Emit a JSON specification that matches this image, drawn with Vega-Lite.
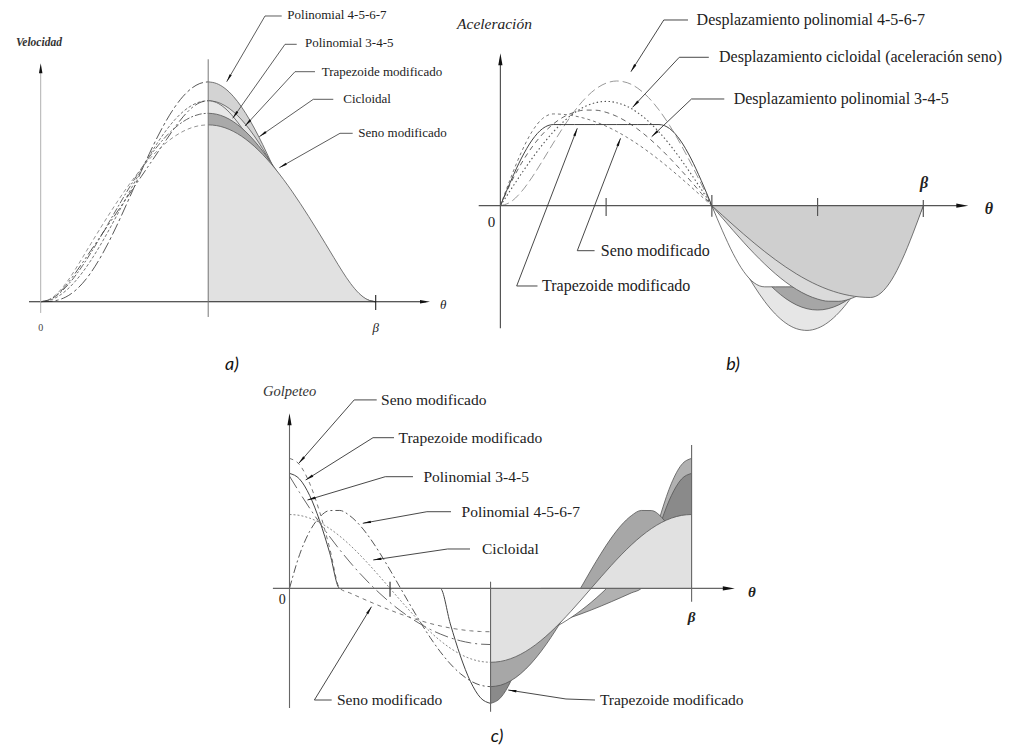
{
"$schema":"https://vega.github.io/schema/vega-lite/v6.json",
"width":1009,"height":749,"padding":0,"autosize":{"type":"none"},
"background":"#ffffff",
"config":{"view":{"stroke":null}},
"datasets":{
"vel":[
{"u":0,"A":0,"B":0,"C":0,"D":0,"E":0},
{"u":0.025,"A":0.002,"B":0.0178,"C":0.0123,"D":0.019,"E":0.0215},
{"u":0.05,"A":0.015,"B":0.0677,"C":0.0489,"D":0.0743,"E":0.084},
{"u":0.075,"A":0.0467,"B":0.1444,"C":0.109,"D":0.1603,"E":0.1813},
{"u":0.1,"A":0.1021,"B":0.243,"C":0.191,"D":0.2688,"E":0.304},
{"u":0.125,"A":0.1832,"B":0.3589,"C":0.2929,"D":0.389,"E":0.4399},
{"u":0.15,"A":0.2902,"B":0.4877,"C":0.4122,"D":0.5112,"E":0.5779},
{"u":0.175,"A":0.4213,"B":0.6253,"C":0.546,"D":0.6334,"E":0.7143},
{"u":0.2,"A":0.5734,"B":0.768,"C":0.691,"D":0.7556,"E":0.8477},
{"u":0.225,"A":0.7423,"B":0.9122,"C":0.8436,"D":0.8778,"E":0.9767},
{"u":0.25,"A":0.9229,"B":1.0547,"C":1,"D":1,"E":1.0998},
{"u":0.275,"A":1.1095,"B":1.1925,"C":1.1564,"D":1.1222,"E":1.2156},
{"u":0.3,"A":1.2965,"B":1.323,"C":1.309,"D":1.2444,"E":1.323},
{"u":0.325,"A":1.478,"B":1.4438,"C":1.454,"D":1.3666,"E":1.4207},
{"u":0.35,"A":1.6484,"B":1.5527,"C":1.5878,"D":1.4888,"E":1.5076},
{"u":0.375,"A":1.8024,"B":1.648,"C":1.7071,"D":1.611,"E":1.5828},
{"u":0.4,"A":1.9354,"B":1.728,"C":1.809,"D":1.7312,"E":1.6455},
{"u":0.425,"A":2.0431,"B":1.7916,"C":1.891,"D":1.8397,"E":1.695},
{"u":0.45,"A":2.1225,"B":1.8377,"C":1.9511,"D":1.9257,"E":1.7308},
{"u":0.475,"A":2.1712,"B":1.8656,"C":1.9877,"D":1.981,"E":1.7524},
{"u":0.5,"A":2.1875,"B":1.875,"C":2,"D":2,"E":1.7596},
{"u":0.525,"A":2.1712,"B":1.8656,"C":1.9877,"D":1.981,"E":1.7524},
{"u":0.55,"A":2.1225,"B":1.8377,"C":1.9511,"D":1.9257,"E":1.7308},
{"u":0.575,"A":2.0431,"B":1.7916,"C":1.891,"D":1.8397,"E":1.695},
{"u":0.6,"A":1.9354,"B":1.728,"C":1.809,"D":1.7312,"E":1.6455},
{"u":0.625,"A":1.8024,"B":1.648,"C":1.7071,"D":1.611,"E":1.5828},
{"u":0.65,"A":1.6484,"B":1.5527,"C":1.5878,"D":1.4888,"E":1.5076},
{"u":0.675,"A":1.478,"B":1.4438,"C":1.454,"D":1.3666,"E":1.4207},
{"u":0.7,"A":1.2965,"B":1.323,"C":1.309,"D":1.2444,"E":1.323},
{"u":0.725,"A":1.1095,"B":1.1925,"C":1.1564,"D":1.1222,"E":1.2156},
{"u":0.75,"A":0.9229,"B":1.0547,"C":1,"D":1,"E":1.0998},
{"u":0.775,"A":0.7423,"B":0.9122,"C":0.8436,"D":0.8778,"E":0.9767},
{"u":0.8,"A":0.5734,"B":0.768,"C":0.691,"D":0.7556,"E":0.8477},
{"u":0.825,"A":0.4213,"B":0.6253,"C":0.546,"D":0.6334,"E":0.7143},
{"u":0.85,"A":0.2902,"B":0.4877,"C":0.4122,"D":0.5112,"E":0.5779},
{"u":0.875,"A":0.1832,"B":0.3589,"C":0.2929,"D":0.389,"E":0.4399},
{"u":0.9,"A":0.1021,"B":0.243,"C":0.191,"D":0.2688,"E":0.304},
{"u":0.925,"A":0.0467,"B":0.1444,"C":0.109,"D":0.1603,"E":0.1813},
{"u":0.95,"A":0.015,"B":0.0677,"C":0.0489,"D":0.0743,"E":0.084},
{"u":0.975,"A":0.002,"B":0.0178,"C":0.0123,"D":0.019,"E":0.0215},
{"u":1,"A":0,"B":0,"C":0,"D":0,"E":0}
],
"acc":[
{"u":0,"A":0,"B":0,"C":0,"D":0,"E":0},
{"u":0.025,"A":0.2371,"B":1.3894,"C":0.9829,"D":1.5105,"E":1.7083},
{"u":0.05,"A":0.8529,"B":2.565,"C":1.9416,"D":2.8732,"E":3.2493},
{"u":0.075,"A":1.7182,"B":3.5381,"C":2.8525,"D":3.9546,"E":4.4723},
{"u":0.1,"A":2.7216,"B":4.32,"C":3.6932,"D":4.6489,"E":5.2575},
{"u":0.125,"A":3.7684,"B":4.9219,"C":4.4429,"D":4.8881,"E":5.528},
{"u":0.15,"A":4.7793,"B":5.355,"C":5.0832,"D":4.8881,"E":5.4977},
{"u":0.175,"A":5.6904,"B":5.6306,"C":5.5984,"D":4.8881,"E":5.4072},
{"u":0.2,"A":6.4512,"B":5.76,"C":5.9757,"D":4.8881,"E":5.2575},
{"u":0.225,"A":7.024,"B":5.7544,"C":6.2058,"D":4.8881,"E":5.0501},
{"u":0.25,"A":7.3828,"B":5.625,"C":6.2832,"D":4.8881,"E":4.7874},
{"u":0.275,"A":7.5128,"B":5.3831,"C":6.2058,"D":4.8881,"E":4.4723},
{"u":0.3,"A":7.4088,"B":5.04,"C":5.9757,"D":4.8881,"E":4.1081},
{"u":0.325,"A":7.0744,"B":4.6069,"C":5.5984,"D":4.8881,"E":3.699},
{"u":0.35,"A":6.5213,"B":4.095,"C":5.0832,"D":4.8881,"E":3.2493},
{"u":0.375,"A":5.7679,"B":3.5156,"C":4.4429,"D":4.8881,"E":2.764},
{"u":0.4,"A":4.8384,"B":2.88,"C":3.6932,"D":4.6489,"E":2.2485},
{"u":0.425,"A":3.7623,"B":2.1994,"C":2.8525,"D":3.9546,"E":1.7083},
{"u":0.45,"A":2.5728,"B":1.485,"C":1.9416,"D":2.8732,"E":1.1493},
{"u":0.475,"A":1.306,"B":0.7481,"C":0.9829,"D":1.5105,"E":0.5778},
{"u":0.5,"A":0,"B":0,"C":0,"D":0,"E":0},
{"u":0.525,"A":-1.306,"B":-0.7481,"C":-0.9829,"D":-1.5105,"E":-0.5778},
{"u":0.55,"A":-2.5728,"B":-1.485,"C":-1.9416,"D":-2.8732,"E":-1.1493},
{"u":0.575,"A":-3.7623,"B":-2.1994,"C":-2.8525,"D":-3.9546,"E":-1.7083},
{"u":0.6,"A":-4.8384,"B":-2.88,"C":-3.6932,"D":-4.6489,"E":-2.2485},
{"u":0.625,"A":-5.7679,"B":-3.5156,"C":-4.4429,"D":-4.8881,"E":-2.764},
{"u":0.65,"A":-6.5213,"B":-4.095,"C":-5.0832,"D":-4.8881,"E":-3.2493},
{"u":0.675,"A":-7.0744,"B":-4.6069,"C":-5.5984,"D":-4.8881,"E":-3.699},
{"u":0.7,"A":-7.4088,"B":-5.04,"C":-5.9757,"D":-4.8881,"E":-4.1081},
{"u":0.725,"A":-7.5128,"B":-5.3831,"C":-6.2058,"D":-4.8881,"E":-4.4723},
{"u":0.75,"A":-7.3828,"B":-5.625,"C":-6.2832,"D":-4.8881,"E":-4.7874},
{"u":0.775,"A":-7.024,"B":-5.7544,"C":-6.2058,"D":-4.8881,"E":-5.0501},
{"u":0.8,"A":-6.4512,"B":-5.76,"C":-5.9757,"D":-4.8881,"E":-5.2575},
{"u":0.825,"A":-5.6904,"B":-5.6306,"C":-5.5984,"D":-4.8881,"E":-5.4072},
{"u":0.85,"A":-4.7793,"B":-5.355,"C":-5.0832,"D":-4.8881,"E":-5.4977},
{"u":0.875,"A":-3.7684,"B":-4.9219,"C":-4.4429,"D":-4.8881,"E":-5.528},
{"u":0.9,"A":-2.7216,"B":-4.32,"C":-3.6932,"D":-4.6489,"E":-5.2575},
{"u":0.925,"A":-1.7182,"B":-3.5381,"C":-2.8525,"D":-3.9546,"E":-4.4723},
{"u":0.95,"A":-0.8529,"B":-2.565,"C":-1.9416,"D":-2.8732,"E":-3.2493},
{"u":0.975,"A":-0.2371,"B":-1.3894,"C":-0.9829,"D":-1.5105,"E":-1.7083},
{"u":1,"A":0,"B":0,"C":0,"D":0,"E":0}
],
"jrk":[
{"u":0,"A":0,"B":60,"C":39.478,"D":61.426,"E":69.467},
{"u":0.025,"A":17.979,"B":51.225,"C":38.992,"D":58.42,"E":66.067},
{"u":0.05,"A":30.424,"B":42.9,"C":37.546,"D":49.695,"E":56.2},
{"u":0.075,"A":38.06,"B":35.025,"C":35.175,"D":36.106,"E":40.832},
{"u":0.1,"A":41.58,"B":27.6,"C":31.938,"D":18.982,"E":21.467},
{"u":0.125,"A":41.631,"B":20.625,"C":27.915,"D":0,"E":0},
{"u":0.15,"A":38.824,"B":14.1,"C":23.205,"D":0,"E":-2.42},
{"u":0.175,"A":33.729,"B":8.025,"C":17.923,"D":0,"E":-4.814},
{"u":0.2,"A":26.88,"B":2.4,"C":12.2,"D":0,"E":-7.156},
{"u":0.225,"A":18.767,"B":-2.775,"C":6.176,"D":0,"E":-9.418},
{"u":0.25,"A":9.844,"B":-7.5,"C":0,"D":0,"E":-11.578},
{"u":0.275,"A":0.523,"B":-11.775,"C":-6.176,"D":0,"E":-13.611},
{"u":0.3,"A":-8.82,"B":-15.6,"C":-12.2,"D":0,"E":-15.494},
{"u":0.325,"A":-17.852,"B":-18.975,"C":-17.923,"D":0,"E":-17.208},
{"u":0.35,"A":-26.276,"B":-21.9,"C":-23.205,"D":0,"E":-18.734},
{"u":0.375,"A":-33.838,"B":-24.375,"C":-27.915,"D":0,"E":-20.054},
{"u":0.4,"A":-40.32,"B":-26.4,"C":-31.938,"D":-18.982,"E":-21.154},
{"u":0.425,"A":-45.545,"B":-27.975,"C":-35.175,"D":-36.106,"E":-22.023},
{"u":0.45,"A":-49.376,"B":-29.1,"C":-37.546,"D":-49.695,"E":-22.65},
{"u":0.475,"A":-51.714,"B":-29.775,"C":-38.992,"D":-58.42,"E":-23.029},
{"u":0.5,"A":-52.5,"B":-30,"C":-39.478,"D":-61.426,"E":-23.156},
{"u":0.525,"A":-51.714,"B":-29.775,"C":-38.992,"D":-58.42,"E":-23.029},
{"u":0.55,"A":-49.376,"B":-29.1,"C":-37.546,"D":-49.695,"E":-22.65},
{"u":0.575,"A":-45.545,"B":-27.975,"C":-35.175,"D":-36.106,"E":-22.023},
{"u":0.6,"A":-40.32,"B":-26.4,"C":-31.938,"D":-18.982,"E":-21.154},
{"u":0.625,"A":-33.838,"B":-24.375,"C":-27.915,"D":0,"E":-20.054},
{"u":0.65,"A":-26.276,"B":-21.9,"C":-23.205,"D":0,"E":-18.734},
{"u":0.675,"A":-17.852,"B":-18.975,"C":-17.923,"D":0,"E":-17.208},
{"u":0.7,"A":-8.82,"B":-15.6,"C":-12.2,"D":0,"E":-15.494},
{"u":0.725,"A":0.523,"B":-11.775,"C":-6.176,"D":0,"E":-13.611},
{"u":0.75,"A":9.844,"B":-7.5,"C":0,"D":0,"E":-11.578},
{"u":0.775,"A":18.767,"B":-2.775,"C":6.176,"D":0,"E":-9.418},
{"u":0.8,"A":26.88,"B":2.4,"C":12.2,"D":0,"E":-7.156},
{"u":0.825,"A":33.729,"B":8.025,"C":17.923,"D":0,"E":-4.814},
{"u":0.85,"A":38.824,"B":14.1,"C":23.205,"D":0,"E":-2.42},
{"u":0.875,"A":41.631,"B":20.625,"C":27.915,"D":0,"E":0},
{"u":0.9,"A":41.58,"B":27.6,"C":31.938,"D":18.982,"E":21.467},
{"u":0.925,"A":38.06,"B":35.025,"C":35.175,"D":36.106,"E":40.832},
{"u":0.95,"A":30.424,"B":42.9,"C":37.546,"D":49.695,"E":56.2},
{"u":0.975,"A":17.979,"B":51.225,"C":38.992,"D":58.42,"E":66.067},
{"u":1,"A":0,"B":60,"C":39.478,"D":61.426,"E":69.467}
],
"S":[
{"p":"a","g":"k","u":-0.0349,"y":0,"u2":1.15,"y2":0},
{"p":"a","g":"k","u":1,"y":0.067,"u2":1,"y2":-0.083},
{"p":"a","g":"l","u":0,"y":-0.112,"u2":0,"y2":2.33},
{"p":"a","g":"m","u":0.5,"y":-0.152,"u2":0.5,"y2":2.412},
{"p":"b","g":"m","u":-0.0513,"y":0,"u2":1.09,"y2":0},
{"p":"b","g":"m","u":0,"y":-7.386,"u2":0,"y2":8.8},
{"p":"b","g":"m","u":0.25,"y":0.464,"u2":0.25,"y2":-0.62},
{"p":"b","g":"m","u":0.5,"y":0.645,"u2":0.5,"y2":-0.663},
{"p":"b","g":"m","u":0.75,"y":0.464,"u2":0.75,"y2":-0.62},
{"p":"b","g":"m","u":1,"y":0.343,"u2":1,"y2":-0.681},
{"p":"c","g":"m","u":-0.0413,"y":0,"u2":1.09,"y2":0},
{"p":"c","g":"m","u":0,"y":-63.9,"u2":0,"y2":90},
{"p":"c","g":"m","u":1,"y":76.6,"u2":1,"y2":-7.1},
{"p":"c","g":"m","u":0.5,"y":3.58,"u2":0.5,"y2":-65.9},
{"p":"c","g":"k","u":0.25,"y":3.58,"u2":0.25,"y2":-4.43}
],
"T":[
{"p":"a","k":"lab","t":"Polinomial 4-5-6-7","u":0.7361,"y":2.8527},
{"p":"a","k":"lab","t":"Polinomial 3-4-5","u":0.789,"y":2.5711},
{"p":"a","k":"lab","t":"Trapezoide modificado","u":0.8388,"y":2.2886},
{"p":"a","k":"lab","t":"Cicloidal","u":0.9033,"y":2.0139},
{"p":"a","k":"lab","t":"Seno modificado","u":0.9481,"y":1.6816},
{"p":"a","k":"num","t":"0","u":0,"y":-0.265},
{"p":"a","k":"sym","t":"β","u":1,"y":-0.262},
{"p":"a","k":"sym","t":"θ","u":1.2018,"y":-0.033},
{"p":"a","k":"ttl","t":"Velocidad","u":-0.0054,"y":2.571},
{"p":"a","k":"cap","t":"a)","u":0.571,"y":-0.63},
{"p":"b","k":"lab","t":"Desplazamiento polinomial 4-5-6-7","u":0.4639,"y":11.187},
{"p":"b","k":"lab","t":"Desplazamiento cicloidal (aceleración seno)","u":0.5169,"y":8.976},
{"p":"b","k":"lab","t":"Desplazamiento polinomial 3-4-5","u":0.5517,"y":6.428},
{"p":"b","k":"lab","t":"Seno modificado","u":0.2374,"y":-2.711},
{"p":"b","k":"lab","t":"Trapezoide modificado","u":0.0984,"y":-4.837},
{"p":"b","k":"num","t":"0","u":-0.021,"y":-0.964},
{"p":"b","k":"sym","t":"β","u":1.0017,"y":1.349},
{"p":"b","k":"sym","t":"θ","u":1.1554,"y":-0.217},
{"p":"b","k":"ttl","t":"Aceleración","u":-0.014,"y":10.946},
{"p":"b","k":"cap","t":"b)","u":0.55,"y":-9.596},
{"p":"c","k":"lab","t":"Seno modificado","u":0.2276,"y":100.69},
{"p":"c","k":"lab","t":"Trapezoide modificado","u":0.2711,"y":80.5},
{"p":"c","k":"lab","t":"Polinomial 3-4-5","u":0.333,"y":59.67},
{"p":"c","k":"lab","t":"Polinomial 4-5-6-7","u":0.4278,"y":40.97},
{"p":"c","k":"lab","t":"Cicloidal","u":0.4787,"y":21.05},
{"p":"c","k":"lab","t":"Seno modificado","u":0.1179,"y":-59.62},
{"p":"c","k":"lab","t":"Trapezoide modificado","u":0.7719,"y":-59.62},
{"p":"c","k":"num","t":"0","u":-0.0182,"y":-6.2},
{"p":"c","k":"sym","t":"β","u":1,"y":-15.1},
{"p":"c","k":"sym","t":"θ","u":1.1502,"y":-1.76},
{"p":"c","k":"ttl","t":"Golpeteo","u":0.0005,"y":105.08},
{"p":"c","k":"cap","t":"c)","u":0.516,"y":-79.22}
],
"L":[
{"p":"a","id":"a1","o":1,"u":0.7194,"y":2.8428},{"p":"a","id":"a1","o":2,"u":0.6696,"y":2.8428},{"p":"a","id":"a1","o":3,"u":0.5552,"y":2.1891},
{"p":"a","id":"a2","o":1,"u":0.7642,"y":2.5612},{"p":"a","id":"a2","o":2,"u":0.7293,"y":2.5612},{"p":"a","id":"a2","o":3,"u":0.5731,"y":1.8249},
{"p":"a","id":"a3","o":1,"u":0.8188,"y":2.2886},{"p":"a","id":"a3","o":2,"u":0.7591,"y":2.2886},{"p":"a","id":"a3","o":3,"u":0.6099,"y":1.7483},
{"p":"a","id":"a4","o":1,"u":0.8734,"y":2.0139},{"p":"a","id":"a4","o":2,"u":0.8137,"y":2.0139},{"p":"a","id":"a4","o":3,"u":0.6525,"y":1.6418},
{"p":"a","id":"a5","o":1,"u":0.9313,"y":1.6756},{"p":"a","id":"a5","o":2,"u":0.8934,"y":1.6756},{"p":"a","id":"a5","o":3,"u":0.7122,"y":1.3333},
{"p":"b","id":"b1","o":1,"u":0.4436,"y":11.187},{"p":"b","id":"b1","o":2,"u":0.3864,"y":11.187},{"p":"b","id":"b1","o":3,"u":0.3086,"y":8.072},
{"p":"b","id":"b2","o":1,"u":0.4928,"y":8.94},{"p":"b","id":"b2","o":2,"u":0.423,"y":8.94},{"p":"b","id":"b2","o":3,"u":0.3126,"y":5.928},
{"p":"b","id":"b3","o":1,"u":0.5294,"y":6.428},{"p":"b","id":"b3","o":2,"u":0.4519,"y":6.428},{"p":"b","id":"b3","o":3,"u":0.3578,"y":4.157},
{"p":"b","id":"b4","o":1,"u":0.2227,"y":-2.711},{"p":"b","id":"b4","o":2,"u":0.1818,"y":-2.711},{"p":"b","id":"b4","o":3,"u":0.284,"y":4.06},
{"p":"b","id":"b5","o":1,"u":0.0877,"y":-4.837},{"p":"b","id":"b5","o":2,"u":0.0385,"y":-4.837},{"p":"b","id":"b5","o":3,"u":0.1818,"y":4.663},
{"p":"c","id":"c1","o":1,"u":0.2169,"y":100.69},{"p":"c","id":"c1","o":2,"u":0.1609,"y":100.69},{"p":"c","id":"c1","o":3,"u":0.0231,"y":66.83},
{"p":"c","id":"c2","o":1,"u":0.2599,"y":80.5},{"p":"c","id":"c2","o":2,"u":0.2077,"y":80.5},{"p":"c","id":"c2","o":3,"u":0.0403,"y":57.91},
{"p":"c","id":"c3","o":1,"u":0.3071,"y":59.67},{"p":"c","id":"c3","o":2,"u":0.2382,"y":59.67},{"p":"c","id":"c3","o":3,"u":0.0448,"y":47.22},
{"p":"c","id":"c4","o":1,"u":0.4016,"y":40.97},{"p":"c","id":"c4","o":2,"u":0.3417,"y":40.97},{"p":"c","id":"c4","o":3,"u":0.1823,"y":34.78},
{"p":"c","id":"c5","o":1,"u":0.4489,"y":21.05},{"p":"c","id":"c5","o":2,"u":0.3932,"y":21.05},{"p":"c","id":"c5","o":3,"u":0.2082,"y":15.17},
{"p":"c","id":"c6","o":1,"u":0.1049,"y":-59.62},{"p":"c","id":"c6","o":2,"u":0.0619,"y":-59.62},{"p":"c","id":"c6","o":3,"u":0.2039,"y":-9.78},
{"p":"c","id":"c7","o":1,"u":0.7598,"y":-59.62},{"p":"c","id":"c7","o":2,"u":0.6876,"y":-59.08},{"p":"c","id":"c7","o":3,"u":0.5439,"y":-54.27}
],
"H":[
{"p":"a","u":0.5612,"y":2.2239,"ang":210},{"p":"a","u":0.58,"y":1.8577,"ang":215},{"p":"a","u":0.6179,"y":1.7771,"ang":223},{"p":"a","u":0.6624,"y":1.6647,"ang":235},{"p":"a","u":0.7227,"y":1.3532,"ang":240},
{"p":"b","u":0.3136,"y":8.277,"ang":212},{"p":"b","u":0.319,"y":6.102,"ang":223},{"p":"b","u":0.3646,"y":4.325,"ang":227},{"p":"b","u":0.2807,"y":3.837,"ang":21},{"p":"b","u":0.1785,"y":4.44,"ang":21},
{"p":"c","u":0.0296,"y":68.43,"ang":221},{"p":"c","u":0.0487,"y":59.03,"ang":238},{"p":"c","u":0.0542,"y":47.81,"ang":253},{"p":"c","u":0.192,"y":35.15,"ang":260},{"p":"c","u":0.2181,"y":15.49,"ang":262},{"p":"c","u":0.1987,"y":-11.59,"ang":31.5},{"p":"c","u":0.5538,"y":-54.6,"ang":278}
],
"AH":[
{"p":"a","u":1.1472,"y":0,"ang":90},{"p":"a","u":0,"y":2.3224,"ang":0},
{"p":"b","u":1.0922,"y":0,"ang":90},{"p":"b","u":0,"y":8.82,"ang":0},
{"p":"c","u":1.0925,"y":0,"ang":90},{"p":"c","u":0,"y":90.33,"ang":0}
]
},
"resolve":{"scale":{"x":"independent","y":"independent"}},
"layer":[
{
"encoding":{
"x":{"field":"u","type":"quantitative","scale":{"domain":[-0.12149,2.89045],"nice":false,"zero":false},"axis":null},
"y":{"field":"y","type":"quantitative","scale":{"domain":[-4.4507,3.00199],"nice":false,"zero":false},"axis":null}},
"layer":[
{"data":{"name":"vel"},"transform":[{"fold":["A"],"as":["s","y"]},{"filter":"datum.u >= 0.5"}],"mark":{"type":"area","interpolate":"monotone","fill":"#d3d3d3","opacity":1,"line":{"stroke":"#555555","strokeWidth":0.8}},"encoding":{"y2":{"datum":0}}},
{"data":{"name":"vel"},"transform":[{"fold":["C"],"as":["s","y"]},{"filter":"datum.u >= 0.5"}],"mark":{"type":"area","interpolate":"monotone","fill":"#e7e7e7","opacity":1,"line":{"stroke":"#555555","strokeWidth":0.8}},"encoding":{"y2":{"datum":0}}},
{"data":{"name":"vel"},"transform":[{"fold":["D"],"as":["s","y"]},{"filter":"datum.u >= 0.5"}],"mark":{"type":"area","interpolate":"monotone","fill":"#e7e7e7","opacity":1,"line":{"stroke":"#555555","strokeWidth":0.8}},"encoding":{"y2":{"datum":0}}},
{"data":{"name":"vel"},"transform":[{"fold":["B"],"as":["s","y"]},{"filter":"datum.u >= 0.5"}],"mark":{"type":"area","interpolate":"monotone","fill":"#a9a9a9","opacity":1,"line":{"stroke":"#555555","strokeWidth":0.8}},"encoding":{"y2":{"datum":0}}},
{"data":{"name":"vel"},"transform":[{"fold":["E"],"as":["s","y"]},{"filter":"datum.u >= 0.5"}],"mark":{"type":"area","interpolate":"monotone","fill":"#e1e1e1","opacity":1,"line":{"stroke":"#555555","strokeWidth":0.8}},"encoding":{"y2":{"datum":0}}},
{"data":{"name":"vel"},"transform":[{"fold":["A"],"as":["s","y"]},{"filter":"datum.u <= 0.5"}],"mark":{"type":"line","interpolate":"monotone","stroke":"#444444","strokeWidth":0.9,"strokeDash":[12,3,3,3]},"encoding":{}},
{"data":{"name":"vel"},"transform":[{"fold":["B"],"as":["s","y"]},{"filter":"datum.u <= 0.5"}],"mark":{"type":"line","interpolate":"monotone","stroke":"#555555","strokeWidth":0.9,"strokeDash":[7,2,2,2]},"encoding":{}},
{"data":{"name":"vel"},"transform":[{"fold":["C"],"as":["s","y"]},{"filter":"datum.u <= 0.5"}],"mark":{"type":"line","interpolate":"monotone","stroke":"#666666","strokeWidth":0.9,"strokeDash":[3,2]},"encoding":{}},
{"data":{"name":"vel"},"transform":[{"fold":["D"],"as":["s","y"]},{"filter":"datum.u <= 0.5"}],"mark":{"type":"line","interpolate":"monotone","stroke":"#444444","strokeWidth":0.9,"strokeDash":[10,3,2,3,2,3]},"encoding":{}},
{"data":{"name":"vel"},"transform":[{"fold":["E"],"as":["s","y"]},{"filter":"datum.u <= 0.5"}],"mark":{"type":"line","interpolate":"monotone","stroke":"#888888","strokeWidth":0.9,"strokeDash":[4,3]},"encoding":{}},
{"data":{"name":"S"},"transform":[{"filter":"datum.p == 'a' && datum.g == 'k'"}],"mark":{"type":"rule","stroke":"#222222","strokeWidth":1.1},"encoding":{"x2":{"field":"u2"},"y2":{"field":"y2"}}},
{"data":{"name":"S"},"transform":[{"filter":"datum.p == 'a' && datum.g == 'l'"}],"mark":{"type":"rule","stroke":"#b0b0b0","strokeWidth":1},"encoding":{"x2":{"field":"u2"},"y2":{"field":"y2"}}},
{"data":{"name":"S"},"transform":[{"filter":"datum.p == 'a' && datum.g == 'm'"}],"mark":{"type":"rule","stroke":"#777777","strokeWidth":1},"encoding":{"x2":{"field":"u2"},"y2":{"field":"y2"}}},
{"data":{"name":"L"},"transform":[{"filter":"datum.p == 'a'"}],"mark":{"type":"line","stroke":"#333333","strokeWidth":0.8},"encoding":{"detail":{"field":"id","type":"nominal"},"order":{"field":"o","type":"quantitative"}}},
{"data":{"name":"H"},"transform":[{"filter":"datum.p == 'a'"}],"mark":{"type":"point","shape":"M0,-1L0.3,1L-0.3,1Z","filled":true,"size":64,"color":"#111111","opacity":1,"strokeWidth":0},"encoding":{"angle":{"field":"ang","type":"quantitative","scale":null}}},
{"data":{"name":"AH"},"transform":[{"filter":"datum.p == 'a'"}],"mark":{"type":"point","shape":"M0,-1L0.35,1L-0.35,1Z","filled":true,"size":100,"color":"#111111","opacity":1,"strokeWidth":0},"encoding":{"angle":{"field":"ang","type":"quantitative","scale":null}}},
{"data":{"name":"T"},"transform":[{"filter":"datum.p == 'a' && datum.k == 'lab'"}],"mark":{"type":"text","align":"left","baseline":"middle","font":"Liberation Serif","fontSize":13,"color":"#222222"},"encoding":{"text":{"field":"t"}}},
{"data":{"name":"T"},"transform":[{"filter":"datum.p == 'a' && datum.k == 'num'"}],"mark":{"type":"text","align":"center","baseline":"middle","font":"Liberation Serif","fontSize":10,"color":"#444444"},"encoding":{"text":{"field":"t"}}},
{"data":{"name":"T"},"transform":[{"filter":"datum.p == 'a' && datum.k == 'sym'"}],"mark":{"type":"text","align":"center","baseline":"middle","font":"Liberation Serif","fontStyle":"italic","fontSize":13,"color":"#222222"},"encoding":{"text":{"field":"t"}}},
{"data":{"name":"T"},"transform":[{"filter":"datum.p == 'a' && datum.k == 'ttl'"}],"mark":{"type":"text","align":"center","baseline":"middle","font":"Liberation Serif","fontStyle":"italic","fontWeight":"bold","fontSize":11.5,"color":"#333333"},"encoding":{"text":{"field":"t"}}},
{"data":{"name":"T"},"transform":[{"filter":"datum.p == 'a' && datum.k == 'cap'"}],"mark":{"type":"text","align":"center","baseline":"middle","font":"Lato","fontStyle":"italic","fontSize":18,"color":"#111111"},"encoding":{"text":{"field":"t"}}}
]
},
{
"encoding":{
"x":{"field":"u","type":"quantitative","scale":{"domain":[-1.18326,1.20265],"nice":false,"zero":false},"axis":null},
"y":{"field":"y","type":"quantitative","scale":{"domain":[-32.7289,12.39157],"nice":false,"zero":false},"axis":null}},
"layer":[
{"data":{"name":"acc"},"transform":[{"fold":["A"],"as":["s","y"]},{"filter":"datum.u >= 0.5"}],"mark":{"type":"area","interpolate":"monotone","fill":"#e6e6e6","opacity":1,"line":{"stroke":"#555555","strokeWidth":0.8}},"encoding":{"y2":{"datum":0}}},
{"data":{"name":"acc"},"transform":[{"fold":["C"],"as":["s","y"]},{"filter":"datum.u >= 0.5"}],"mark":{"type":"area","interpolate":"monotone","fill":"#a6a6a6","opacity":1,"line":{"stroke":"#555555","strokeWidth":0.8}},"encoding":{"y2":{"datum":0}}},
{"data":{"name":"acc"},"transform":[{"fold":["D"],"as":["s","y"]},{"filter":"datum.u >= 0.5"}],"mark":{"type":"area","interpolate":"monotone","fill":"#ffffff","opacity":1,"line":{"stroke":"#555555","strokeWidth":0.8}},"encoding":{"y2":{"datum":0}}},
{"data":{"name":"acc"},"transform":[{"fold":["B"],"as":["s","y"]},{"filter":"datum.u >= 0.5"}],"mark":{"type":"area","interpolate":"monotone","fill":"#dadada","opacity":1,"line":{"stroke":"#555555","strokeWidth":0.8}},"encoding":{"y2":{"datum":0}}},
{"data":{"name":"acc"},"transform":[{"fold":["E"],"as":["s","y"]},{"filter":"datum.u >= 0.5"}],"mark":{"type":"area","interpolate":"monotone","fill":"#cfcfcf","opacity":1,"line":{"stroke":"#555555","strokeWidth":0.8}},"encoding":{"y2":{"datum":0}}},
{"data":{"name":"acc"},"transform":[{"fold":["A"],"as":["s","y"]},{"filter":"datum.u <= 0.5"}],"mark":{"type":"line","interpolate":"monotone","stroke":"#999999","strokeWidth":1,"strokeDash":[9,4]},"encoding":{}},
{"data":{"name":"acc"},"transform":[{"fold":["C"],"as":["s","y"]},{"filter":"datum.u <= 0.5"}],"mark":{"type":"line","interpolate":"monotone","stroke":"#555555","strokeWidth":1.1,"strokeDash":[1.5,2.5]},"encoding":{}},
{"data":{"name":"acc"},"transform":[{"fold":["B"],"as":["s","y"]},{"filter":"datum.u <= 0.5"}],"mark":{"type":"line","interpolate":"monotone","stroke":"#666666","strokeWidth":1,"strokeDash":[5,4]},"encoding":{}},
{"data":{"name":"acc"},"transform":[{"fold":["E"],"as":["s","y"]},{"filter":"datum.u <= 0.5"}],"mark":{"type":"line","interpolate":"monotone","stroke":"#777777","strokeWidth":1,"strokeDash":[3,3]},"encoding":{}},
{"data":{"name":"acc"},"transform":[{"fold":["D"],"as":["s","y"]},{"filter":"datum.u <= 0.5"}],"mark":{"type":"line","interpolate":"monotone","stroke":"#444444","strokeWidth":1},"encoding":{}},
{"data":{"name":"S"},"transform":[{"filter":"datum.p == 'b'"}],"mark":{"type":"rule","stroke":"#555555","strokeWidth":1.2},"encoding":{"x2":{"field":"u2"},"y2":{"field":"y2"}}},
{"data":{"name":"L"},"transform":[{"filter":"datum.p == 'b'"}],"mark":{"type":"line","stroke":"#333333","strokeWidth":0.9},"encoding":{"detail":{"field":"id","type":"nominal"},"order":{"field":"o","type":"quantitative"}}},
{"data":{"name":"H"},"transform":[{"filter":"datum.p == 'b'"}],"mark":{"type":"point","shape":"M0,-1L0.3,1L-0.3,1Z","filled":true,"size":70,"color":"#111111","opacity":1,"strokeWidth":0},"encoding":{"angle":{"field":"ang","type":"quantitative","scale":null}}},
{"data":{"name":"AH"},"transform":[{"filter":"datum.p == 'b'"}],"mark":{"type":"point","shape":"M0,-1L0.35,1L-0.35,1Z","filled":true,"size":144,"color":"#111111","opacity":1,"strokeWidth":0},"encoding":{"angle":{"field":"ang","type":"quantitative","scale":null}}},
{"data":{"name":"T"},"transform":[{"filter":"datum.p == 'b' && datum.k == 'lab'"}],"mark":{"type":"text","align":"left","baseline":"middle","font":"Liberation Serif","fontSize":16,"color":"#222222"},"encoding":{"text":{"field":"t"}}},
{"data":{"name":"T"},"transform":[{"filter":"datum.p == 'b' && datum.k == 'num'"}],"mark":{"type":"text","align":"center","baseline":"middle","font":"Liberation Serif","fontSize":15,"color":"#222222"},"encoding":{"text":{"field":"t"}}},
{"data":{"name":"T"},"transform":[{"filter":"datum.p == 'b' && datum.k == 'sym'"}],"mark":{"type":"text","align":"center","baseline":"middle","font":"Liberation Serif","fontStyle":"italic","fontWeight":"bold","fontSize":16,"color":"#222222"},"encoding":{"text":{"field":"t"}}},
{"data":{"name":"T"},"transform":[{"filter":"datum.p == 'b' && datum.k == 'ttl'"}],"mark":{"type":"text","align":"center","baseline":"middle","font":"Liberation Serif","fontStyle":"italic","fontSize":15.5,"color":"#222222"},"encoding":{"text":{"field":"t"}}},
{"data":{"name":"T"},"transform":[{"filter":"datum.p == 'b' && datum.k == 'cap'"}],"mark":{"type":"text","align":"center","baseline":"middle","font":"Lato","fontStyle":"italic","fontSize":18,"color":"#111111"},"encoding":{"text":{"field":"t"}}}
]
},
{
"encoding":{
"x":{"field":"u","type":"quantitative","scale":{"domain":[-0.71997,1.78936],"nice":false,"zero":false},"axis":null},
"y":{"field":"y","type":"quantitative","scale":{"domain":[-85.791,314.316],"nice":false,"zero":false},"axis":null}},
"layer":[
{"data":{"name":"jrk"},"transform":[{"fold":["E"],"as":["s","y"]},{"filter":"datum.u >= 0.5"}],"mark":{"type":"area","interpolate":"monotone","fill":"#b1b1b1","opacity":1,"line":{"stroke":"#555555","strokeWidth":0.8}},"encoding":{"y2":{"datum":0}}},
{"data":{"name":"jrk"},"transform":[{"fold":["B"],"as":["s","y"]},{"filter":"datum.u >= 0.5"}],"mark":{"type":"area","interpolate":"monotone","fill":"#ffffff","opacity":1,"line":{"stroke":"#555555","strokeWidth":0.8}},"encoding":{"y2":{"datum":0}}},
{"data":{"name":"jrk"},"transform":[{"fold":["D"],"as":["s","y"]},{"filter":"datum.u >= 0.5"}],"mark":{"type":"area","interpolate":"monotone","fill":"#8a8a8a","opacity":1,"line":{"stroke":"#555555","strokeWidth":0.8}},"encoding":{"y2":{"datum":0}}},
{"data":{"name":"jrk"},"transform":[{"fold":["A"],"as":["s","y"]},{"filter":"datum.u >= 0.5"}],"mark":{"type":"area","interpolate":"monotone","fill":"#a7a7a7","opacity":1,"line":{"stroke":"#555555","strokeWidth":0.8}},"encoding":{"y2":{"datum":0}}},
{"data":{"name":"jrk"},"transform":[{"fold":["C"],"as":["s","y"]},{"filter":"datum.u >= 0.5"}],"mark":{"type":"area","interpolate":"monotone","fill":"#e1e1e1","opacity":1,"line":{"stroke":"#555555","strokeWidth":0.8}},"encoding":{"y2":{"datum":0}}},
{"data":{"name":"jrk"},"transform":[{"fold":["E"],"as":["s","y"]},{"filter":"datum.u <= 0.5"}],"mark":{"type":"line","interpolate":"monotone","stroke":"#777777","strokeWidth":1,"strokeDash":[4,4]},"encoding":{}},
{"data":{"name":"jrk"},"transform":[{"fold":["D"],"as":["s","y"]},{"filter":"datum.u <= 0.5"}],"mark":{"type":"line","interpolate":"monotone","stroke":"#444444","strokeWidth":1},"encoding":{}},
{"data":{"name":"jrk"},"transform":[{"fold":["B"],"as":["s","y"]},{"filter":"datum.u <= 0.5"}],"mark":{"type":"line","interpolate":"monotone","stroke":"#666666","strokeWidth":1,"strokeDash":[14,4,2,4]},"encoding":{}},
{"data":{"name":"jrk"},"transform":[{"fold":["A"],"as":["s","y"]},{"filter":"datum.u <= 0.5"}],"mark":{"type":"line","interpolate":"monotone","stroke":"#555555","strokeWidth":1,"strokeDash":[8,3,2,3]},"encoding":{}},
{"data":{"name":"jrk"},"transform":[{"fold":["C"],"as":["s","y"]},{"filter":"datum.u <= 0.5"}],"mark":{"type":"line","interpolate":"monotone","stroke":"#888888","strokeWidth":1,"strokeDash":[2,2]},"encoding":{}},
{"data":{"name":"S"},"transform":[{"filter":"datum.p == 'c' && datum.g == 'm'"}],"mark":{"type":"rule","stroke":"#666666","strokeWidth":1.1},"encoding":{"x2":{"field":"u2"},"y2":{"field":"y2"}}},
{"data":{"name":"S"},"transform":[{"filter":"datum.p == 'c' && datum.g == 'k'"}],"mark":{"type":"rule","stroke":"#333333","strokeWidth":1.2},"encoding":{"x2":{"field":"u2"},"y2":{"field":"y2"}}},
{"data":{"name":"L"},"transform":[{"filter":"datum.p == 'c'"}],"mark":{"type":"line","stroke":"#333333","strokeWidth":0.9},"encoding":{"detail":{"field":"id","type":"nominal"},"order":{"field":"o","type":"quantitative"}}},
{"data":{"name":"H"},"transform":[{"filter":"datum.p == 'c'"}],"mark":{"type":"point","shape":"M0,-1L0.3,1L-0.3,1Z","filled":true,"size":70,"color":"#111111","opacity":1,"strokeWidth":0},"encoding":{"angle":{"field":"ang","type":"quantitative","scale":null}}},
{"data":{"name":"AH"},"transform":[{"filter":"datum.p == 'c'"}],"mark":{"type":"point","shape":"M0,-1L0.35,1L-0.35,1Z","filled":true,"size":144,"color":"#111111","opacity":1,"strokeWidth":0},"encoding":{"angle":{"field":"ang","type":"quantitative","scale":null}}},
{"data":{"name":"T"},"transform":[{"filter":"datum.p == 'c' && datum.k == 'lab'"}],"mark":{"type":"text","align":"left","baseline":"middle","font":"Liberation Serif","fontSize":15.5,"color":"#222222"},"encoding":{"text":{"field":"t"}}},
{"data":{"name":"T"},"transform":[{"filter":"datum.p == 'c' && datum.k == 'num'"}],"mark":{"type":"text","align":"center","baseline":"middle","font":"Liberation Serif","fontSize":14,"color":"#222222"},"encoding":{"text":{"field":"t"}}},
{"data":{"name":"T"},"transform":[{"filter":"datum.p == 'c' && datum.k == 'sym'"}],"mark":{"type":"text","align":"center","baseline":"middle","font":"Liberation Serif","fontStyle":"italic","fontWeight":"bold","fontSize":15,"color":"#222222"},"encoding":{"text":{"field":"t"}}},
{"data":{"name":"T"},"transform":[{"filter":"datum.p == 'c' && datum.k == 'ttl'"}],"mark":{"type":"text","align":"center","baseline":"middle","font":"Liberation Serif","fontStyle":"italic","fontSize":14.5,"color":"#333333"},"encoding":{"text":{"field":"t"}}},
{"data":{"name":"T"},"transform":[{"filter":"datum.p == 'c' && datum.k == 'cap'"}],"mark":{"type":"text","align":"center","baseline":"middle","font":"Lato","fontStyle":"italic","fontSize":18,"color":"#111111"},"encoding":{"text":{"field":"t"}}}
]
}
]
}
